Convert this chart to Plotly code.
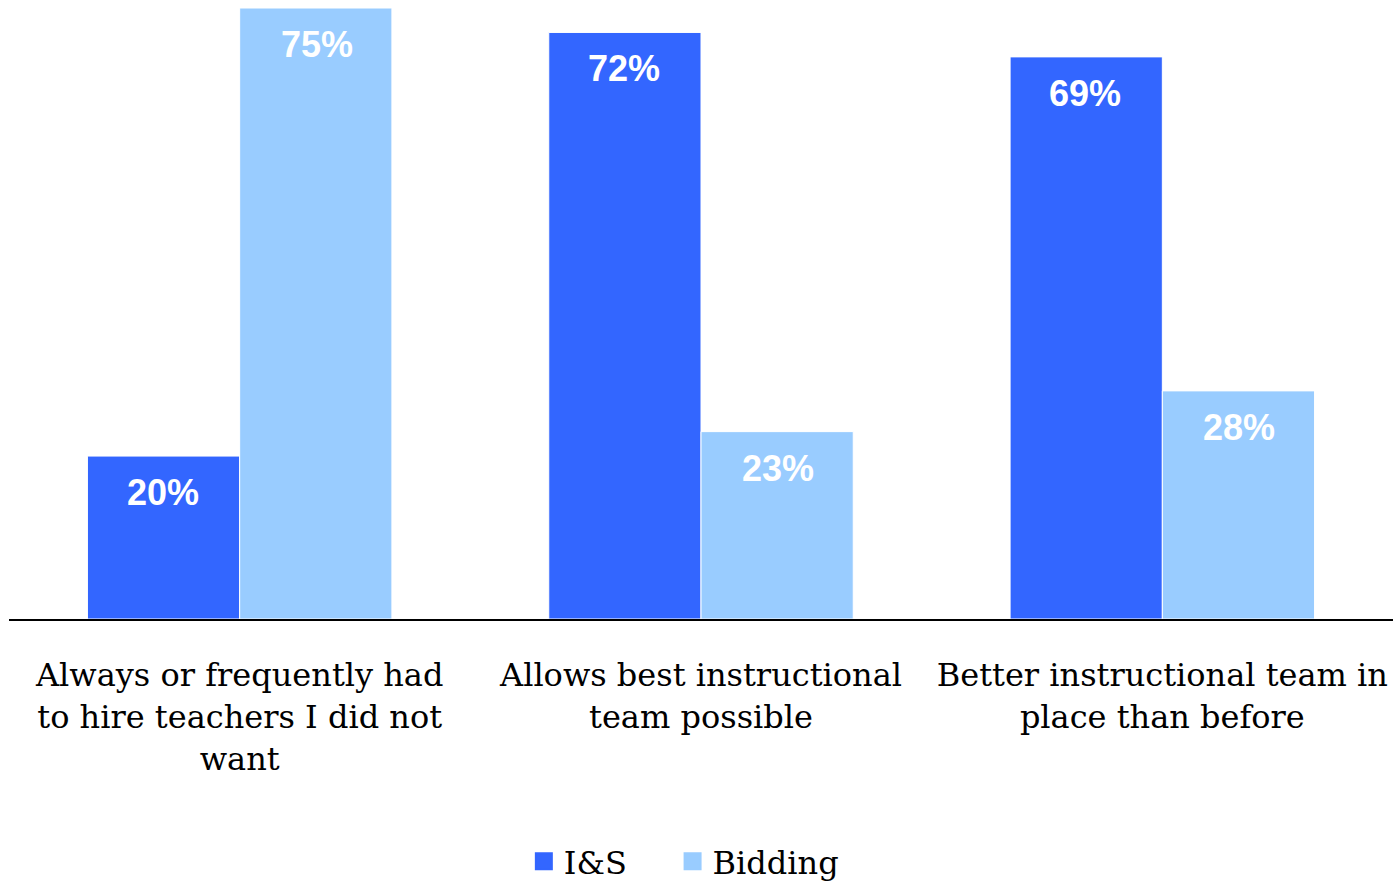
import plotly.graph_objects as go

categories = [
    "Always or frequently had<br>to hire teachers I did not<br>want",
    "Allows best instructional<br>team possible",
    "Better instructional team in<br>place than before",
]
series_names = ["I&S", "Bidding"]
is_values = [20, 72, 69]
bidding_values = [75, 23, 28]

colors = ["#3366FF", "#99CCFF"]
serif = "DejaVu Serif, serif"
legend_pad = ["\u00a0" * 4, ""]

fig = go.Figure()
for name, vals, col in zip(series_names, [is_values, bidding_values], colors):
    fig.add_trace(go.Bar(
        x=categories, y=vals, name=name, showlegend=False,
        marker=dict(color=col, line=dict(color="white", width=1)),
        hoverinfo="skip",
    ))
# legend entries with larger square swatches
for name, col, pad in zip(series_names, colors, legend_pad):
    fig.add_trace(go.Scatter(
        x=[None], y=[None], mode="markers", name=name + pad,
        marker=dict(symbol="square", size=16, color=col, line=dict(color=col, width=2)),
    ))

# value labels inside bars near top
for i, vals in enumerate([is_values, bidding_values]):
    shift = -77 if i == 0 else 77
    for c, v in zip(categories, vals):
        fig.add_annotation(
            x=c, y=v, text=f"<b>{v}%</b>", showarrow=False,
            xanchor="center", yanchor="top", xshift=shift, yshift=-14,
            font=dict(family="Liberation Sans, Arial, sans-serif", size=36, color="white"),
        )

fig.update_layout(
    width=1393, height=882,
    margin=dict(l=9, r=0, t=8, b=263, autoexpand=False),
    paper_bgcolor="white", plot_bgcolor="white",
    barmode="group", bargap=0.34, bargroupgap=0.0,
    showlegend=True,
    legend=dict(
        orientation="h", x=0.372, xanchor="left", y=-0.352, yanchor="top",
        font=dict(family=serif, size=32, color="black"),
        itemsizing="trace",
    ),
    xaxis=dict(
        showline=True, linecolor="black", linewidth=2,
        ticks="", showgrid=False, automargin=False,
        tickfont=dict(family=serif, size=32, color="black"),
        ticklabelstandoff=27,
    ),
    yaxis=dict(range=[0, 75], visible=False, showgrid=False, automargin=False),
)

fig.write_html(
    "out.html",
    config={"displayModeBar": False},
    post_script="document.body.style.margin='0';document.body.style.overflow='hidden';",
)
